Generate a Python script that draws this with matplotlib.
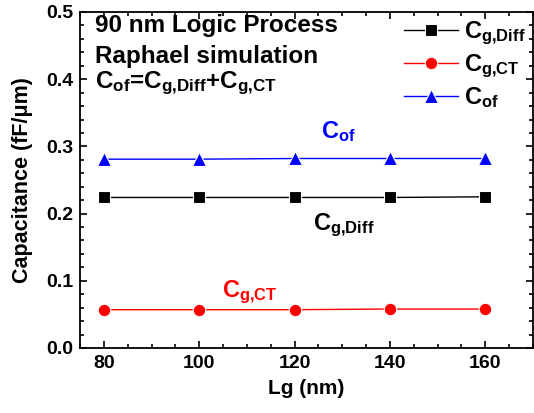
import matplotlib
matplotlib.use("Agg")
import matplotlib.pyplot as plt
from matplotlib.ticker import MultipleLocator

plt.rcParams['font.family'] = ['Liberation Sans', 'DejaVu Sans']
plt.rcParams['font.weight'] = 'bold'
plt.rcParams['mathtext.fontset'] = 'custom'
plt.rcParams['mathtext.rm'] = 'Liberation Sans:bold'
plt.rcParams['mathtext.it'] = 'Liberation Sans:bold'
plt.rcParams['mathtext.bf'] = 'Liberation Sans:bold'

lg = [80, 100, 120, 140, 160]
c_g_diff = [0.224, 0.224, 0.224, 0.224, 0.225]
c_g_ct = [0.057, 0.057, 0.057, 0.058, 0.058]
c_of = [0.281, 0.281, 0.282, 0.282, 0.282]

fig = plt.figure(figsize=(5.34, 4.13), dpi=100)
ax = fig.add_axes([80/534, (413-348)/413, (533-80)/534, (348-12)/413])

ax.plot(lg, c_g_diff, '-s', color='black', lw=1, ms=8.3, mec='white', mew=0.8,
        label=r'$\mathrm{C_{g{,}Diff}}$')
ax.plot(lg, c_g_ct, '-o', color='red', lw=1, ms=9, mec='white', mew=0.8,
        label=r'$\mathrm{C_{g{,}CT}}$')
ax.plot(lg, c_of, '-^', color='blue', lw=1, ms=9.5, mec='white', mew=0.8,
        label=r'$\mathrm{C_{of}}$')

ax.set_xlim(75, 170)
ax.set_ylim(0, 0.5)
ax.xaxis.set_major_locator(MultipleLocator(20))
ax.xaxis.set_minor_locator(MultipleLocator(5))
ax.yaxis.set_major_locator(MultipleLocator(0.1))
ax.yaxis.set_minor_locator(MultipleLocator(0.02))
ax.tick_params(which='both', direction='in', top=True, right=True, labelsize=14, width=1.2)
ax.tick_params(which='major', length=5, pad=5)
ax.tick_params(which='minor', length=3)
for s in ax.spines.values():
    s.set_linewidth(1.3)
ax.set_xlabel('Lg (nm)', fontsize=15, fontweight='bold', labelpad=5)
ax.set_ylabel('Capacitance (fF/\u03bcm)', fontsize=15.5, fontweight='bold', labelpad=9)

ax.text(0.033, 0.940, '90 nm Logic Process', transform=ax.transAxes, fontsize=17.5, fontweight='bold', va='baseline')
ax.text(0.033, 0.848, 'Raphael simulation', transform=ax.transAxes, fontsize=17.5, fontweight='bold', va='baseline')
ax.text(0.033, 0.774, r'$\mathrm{C_{of}}$=$\mathrm{C_{g{,}Diff}}$+$\mathrm{C_{g{,}CT}}$', transform=ax.transAxes, fontsize=17.5, va='baseline')

ax.text(125.5, 0.3125, r'$\mathrm{C_{of}}$', color='blue', fontsize=17, ha='left', va='baseline')
ax.text(123.8, 0.1756, r'$\mathrm{C_{g{,}Diff}}$', color='black', fontsize=17, ha='left', va='baseline')
ax.text(104.8, 0.0759, r'$\mathrm{C_{g{,}CT}}$', color='red', fontsize=17, ha='left', va='baseline')

ax.legend(loc='upper right', frameon=False, fontsize=17, handlelength=2.3, borderaxespad=0.0,
          labelspacing=0.22, handletextpad=0.25, bbox_to_anchor=(1.005, 1.005))

fig.savefig('out.png', dpi=100)
